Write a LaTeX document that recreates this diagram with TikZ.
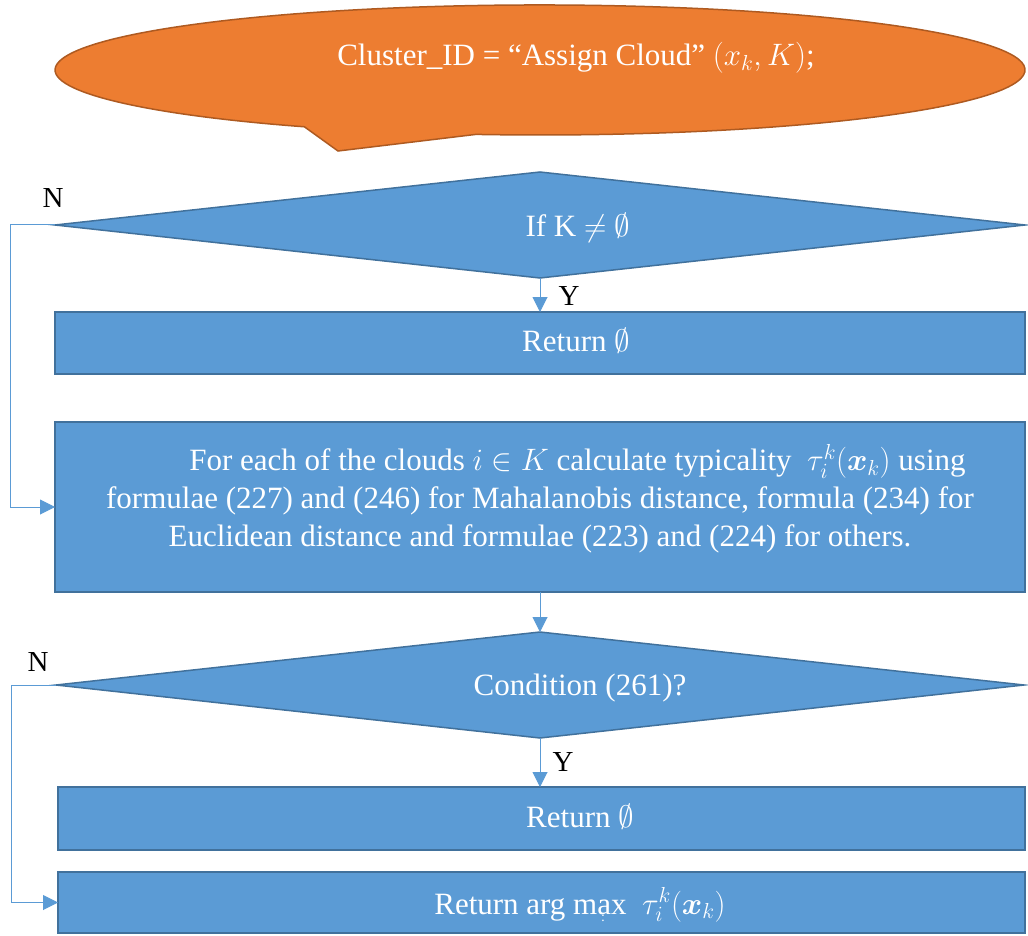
\RequirePackage{fix-cm}
\documentclass[tikz,border=0pt]{standalone}
\usepackage{amsmath}
\usepackage{fontspec}
\setmainfont{Liberation Serif}
\usetikzlibrary{shapes.geometric,arrows.meta}
\definecolor{boxblue}{HTML}{5B9BD5}
\definecolor{boxedge}{HTML}{41719C}
\definecolor{orangefill}{HTML}{ED7D31}
\definecolor{orangeedge}{HTML}{AE5A21}
\begin{document}
\begin{tikzpicture}[x=1pt,y=-1pt,
  blk/.style={draw=boxedge,fill=boxblue,line width=1.5pt,inner sep=0pt,outer sep=0pt},
  dia/.style={blk,diamond,aspect=9},
  txt/.style={text=white,font=\fontsize{31}{38}\selectfont,inner sep=0pt},
  lbl/.style={text=black,font=\fontsize{29}{30}\selectfont,inner sep=0pt},
  conn/.style={draw=boxblue,line width=1pt,-{Triangle[length=15pt,width=15pt]}},
  ]
\useasboundingbox (0,0) rectangle (1028,936);
% callout
\path[fill=orangefill,draw=orangeedge,line width=1.5pt]
  (304.4,126.8) -- (338,151) -- (475.9,134.4)
  arc[start angle=97.6,end angle=-240.9,x radius=485,y radius=65] -- cycle;
\node[txt] (title) at (576,58) {Cluster\_ID = “Assign Cloud” $(x_k,K)$;};
% shapes
\node[dia,minimum width=970pt,minimum height=106pt] (d1) at (540,225) {};
\node[txt] (d1t) at (578,228) {If K $\neq \emptyset$};
\node[blk,minimum width=970pt,minimum height=62pt] (r1) at (540,343) {};
\node[txt] (r1t) at (576,341) {Return $\emptyset$};
\node[blk,minimum width=970pt,minimum height=170pt] (big) at (540,507) {};
\node[txt,align=center] (bigt) at (540,499) {\hspace*{75pt}For each of the clouds $i\in K$ calculate typicality ~$\tau_i^k(\boldsymbol{x}_k)$ using\\
formulae (227) and (246) for Mahalanobis distance, formula (234) for\\
Euclidean distance and formulae (223) and (224) for others.};
\node[dia,minimum width=968pt,minimum height=106pt] (d2) at (540,685) {};
\node[txt] (d2t) at (580,688) {Condition (261)?};
\node[blk,minimum width=967pt,minimum height=63pt] (r2) at (541.5,818.5) {};
\node[txt] (r2t) at (580,817) {Return $\emptyset$};
\node[blk,minimum width=967pt,minimum height=61pt] (r3) at (541.5,902.5) {};
\node[txt] (r3t) at (580,905) {Return arg m\rlap{\kern0.12em\raisebox{-0.55ex}{\fontsize{14}{14}\selectfont:}}ax ~$\tau_i^k(\boldsymbol{x}_k)$};
% connectors
\draw[conn] (d1.south) -- (d1.south |- r1.north);
\draw[conn] (big.south) -- (d2.north);
\draw[conn] (d2.south) -- (d2.south |- r2.north);
\draw[conn] (d1.west) -- ++(-45,0) |- (big.west);
\draw[conn] (d2.west) -- ++(-45,0) |- (r3.west);
% labels
\node[lbl] (y1) at (569,296) {Y};
\node[lbl] (y2) at (563,762) {Y};
\node[lbl] (n1) at (53,198) {N};
\node[lbl] (n2) at (38,662) {N};
\end{tikzpicture}
\end{document}
